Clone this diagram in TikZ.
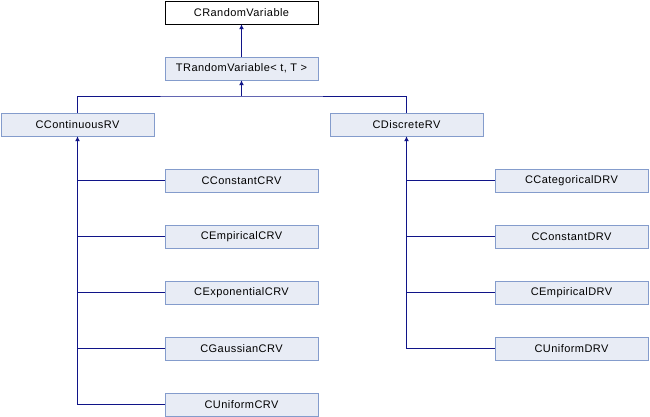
\documentclass[tikz,border=0pt]{standalone}
\usepackage{fontspec}
\setmainfont{Liberation Sans}
\newfontfamily\doxfont[LetterSpace=4]{Liberation Sans}
\usepackage{tikz}
\usetikzlibrary{arrows.meta}

\definecolor{boxfill}{RGB}{232,236,245}
\definecolor{boxline}{RGB}{132,156,204}
\definecolor{edgeblue}{RGB}{16,20,136}

\tikzset{
	cls/.style = {draw = boxline, fill = boxfill, minimum width = 153pt, minimum height = 23pt, inner sep = 0pt, font = \doxfont\fontsize{11}{13}\selectfont},
	topcls/.style = {cls, draw = black, fill = white},
	inherit/.style = {draw = edgeblue, line width = 1pt},
	upto/.style = {inherit, -{Latex[length = 5pt, width = 5pt]}}
}

\begin{document}
\begin{tikzpicture}[x = 1pt, y = -1pt]
						\useasboundingbox (0, 0) rectangle (650, 416);
						\node[topcls] (base) at (241.5, 12.5) {CRandomVariable};
						\node[cls] (tmpl) at (241.5, 68.5) {TRandomVariable< t, T >};
						\node[cls] (cont) at (77.5, 124.5) {CContinuousRV};
						\node[cls] (disc) at (406.5, 124.5) {CDiscreteRV};
							\coordinate (bus) at (241.5, 96);
						\draw[upto] (tmpl.north) -- (base.south);
						\draw[upto] (bus) -- (tmpl.south);
						\draw[inherit] (cont.north) |- (bus) -| (disc.north);
						% continuous children
						\foreach \name/\row in {CConstantCRV/1, CEmpiricalCRV/2, CExponentialCRV/3, CGaussianCRV/4, CUniformCRV/5} {
							\node[cls] (c\row) at (241.5, 124.5 + 56*\row) {\name};
							\draw[inherit] (c\row.west) -- (c\row.west -| cont.south);
						}
						\draw[upto] (c5.west -| cont.south) -- (cont.south);
						% discrete children
						\foreach \name/\row in {CCategoricalDRV/1, CConstantDRV/2, CEmpiricalDRV/3, CUniformDRV/4} {
							\node[cls] (d\row) at (571.5, 124.5 + 56*\row) {\name};
							\draw[inherit] (d\row.west) -- (d\row.west -| disc.south);
						}
						\draw[upto] (d4.west -| disc.south) -- (disc.south);
					\end{tikzpicture}
\end{document}
